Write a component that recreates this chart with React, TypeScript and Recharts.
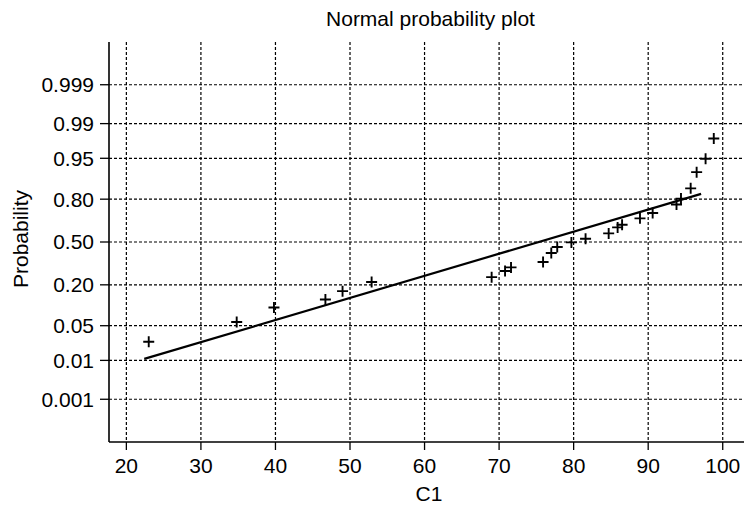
import React from "react";
import {
  ScatterChart,
  Scatter,
  XAxis,
  YAxis,
  CartesianGrid,
} from "recharts";

const c1Values = [
  23.0, 34.8, 39.8, 46.7, 49.0, 52.9, 69.0, 70.8, 71.6, 75.9, 77.0, 77.8, 79.7,
  81.6, 84.7, 85.9, 86.5, 88.9, 90.6, 93.8, 94.4, 95.7, 96.5, 97.7, 98.8,
];
const c1Probs = [
  0.025, 0.058, 0.099, 0.129, 0.167, 0.216, 0.245, 0.284, 0.309, 0.347, 0.414,
  0.461, 0.497, 0.526, 0.567, 0.613, 0.633, 0.679, 0.716, 0.769, 0.803, 0.854,
  0.915, 0.949, 0.979,
];

// fitted normal line end points
const fitValues = [22.4, 97.1];
const fitProbs = [0.0108, 0.828];

const xTicks = [20, 30, 40, 50, 60, 70, 80, 90, 100];
const probTicks = [0.001, 0.01, 0.05, 0.2, 0.5, 0.8, 0.95, 0.99, 0.999];
const probLabels = ["0.001", "0.01", "0.05", "0.20", "0.50", "0.80", "0.95", "0.99", "0.999"];

const FONT = "'Liberation Sans', Arial, Helvetica, sans-serif";

// inverse standard normal cdf (Acklam) for the probability scale
function probit(p: number): number {
  const a = [-39.69683028665376, 220.9460984245205, -275.9285104469687, 138.357751867269, -30.66479806614716, 2.506628277459239];
  const b = [-54.47609879822406, 161.5858368580409, -155.6989798598866, 66.80131188771972, -13.28068155288572];
  const c = [-0.007784894002430293, -0.3223964580411365, -2.400758277161838, -2.549732539343734, 4.374664141464968, 2.938163982698783];
  const d = [0.007784695709041462, 0.3224671290700398, 2.445134137142996, 3.754408661907416];
  const low = 0.02425;
  if (p < low) {
    const q = Math.sqrt(-2 * Math.log(p));
    return (((((c[0] * q + c[1]) * q + c[2]) * q + c[3]) * q + c[4]) * q + c[5]) /
      ((((d[0] * q + d[1]) * q + d[2]) * q + d[3]) * q + 1);
  }
  if (p > 1 - low) {
    const q = Math.sqrt(-2 * Math.log(1 - p));
    return -(((((c[0] * q + c[1]) * q + c[2]) * q + c[3]) * q + c[4]) * q + c[5]) /
      ((((d[0] * q + d[1]) * q + d[2]) * q + d[3]) * q + 1);
  }
  const q = p - 0.5;
  const r = q * q;
  return ((((((a[0] * r + a[1]) * r + a[2]) * r + a[3]) * r + a[4]) * r + a[5]) * q) /
    (((((b[0] * r + b[1]) * r + b[2]) * r + b[3]) * r + b[4]) * r + 1);
}

const points = c1Values.map((x, i) => ({ x, z: probit(c1Probs[i]) }));
const fitLine = fitValues.map((x, i) => ({ x, z: probit(fitProbs[i]) }));
const zTicks = probTicks.map(probit);

const zLabel = (v: number) => {
  let best = 0;
  zTicks.forEach((t, i) => {
    if (Math.abs(t - v) < Math.abs(zTicks[best] - v)) best = i;
  });
  return probLabels[best];
};

const Plus = (props: any) => {
  const { cx, cy } = props;
  if (cx == null || cy == null) return <g />;
  return (
    <path
      d={`M${cx - 5.5},${cy}H${cx + 5.5}M${cx},${cy - 5.5}V${cy + 5.5}`}
      stroke="#000"
      strokeWidth={1.9}
      fill="none"
    />
  );
};

export default function App() {
  const tickStyle = { fontSize: 21, fill: "#000", fontFamily: FONT };
  return (
    <div
      style={{
        position: "absolute",
        left: 0,
        top: 0,
        width: 744,
        height: 505,
        overflow: "hidden",
        background: "#fff",
        fontFamily: FONT,
      }}
    >
      <ScatterChart
        width={760}
        height={505}
        margin={{ top: 42, right: 0, bottom: 0, left: 0 }}
      >
        <CartesianGrid
          stroke="#000"
          strokeWidth={1.2}
          strokeDasharray="3 2"
          horizontalValues={zTicks}
          verticalValues={xTicks}
        />
        <XAxis
          type="number"
          dataKey="x"
          domain={[17.67, 105]}
          allowDataOverflow
          ticks={xTicks}
          interval={0}
          height={63}
          tickSize={8}
          tickMargin={8}
          tick={tickStyle}
          axisLine={{ stroke: "#000", strokeWidth: 1.6 }}
          tickLine={{ stroke: "#000", strokeWidth: 1.3 }}
        />
        <XAxis
          xAxisId="top"
          orientation="top"
          type="number"
          dataKey="x"
          domain={[17.67, 105]}
          allowDataOverflow
          height={0}
          tick={false}
          tickLine={false}
          axisLine={{ stroke: "#000", strokeWidth: 1.6 }}
        />
        <YAxis
          type="number"
          dataKey="z"
          domain={[-3.93, 3.93]}
          allowDataOverflow
          ticks={zTicks}
          interval={0}
          width={109}
          tickSize={9}
          tickMargin={6}
          tick={tickStyle}
          tickFormatter={zLabel}
          axisLine={{ stroke: "#000", strokeWidth: 1.6 }}
          tickLine={{ stroke: "#000", strokeWidth: 1.3 }}
        />
        <Scatter
          data={fitLine}
          line={{ stroke: "#000", strokeWidth: 2.2 }}
          shape={() => <g />}
          isAnimationActive={false}
        />
        <Scatter data={points} shape={Plus} isAnimationActive={false} />
      </ScatterChart>
      <svg
        width={744}
        height={505}
        style={{ position: "absolute", left: 0, top: 0, pointerEvents: "none" }}
      >
        <text x={430.5} y={26} textAnchor="middle" fontSize={21} fontFamily={FONT} fill="#000">
          Normal probability plot
        </text>
        <text x={429} y={501} textAnchor="middle" fontSize={21} fontFamily={FONT} fill="#000">
          C1
        </text>
        <text
          x={28}
          y={239}
          transform="rotate(-90 28 239)"
          textAnchor="middle"
          fontSize={21}
          fontFamily={FONT}
          fill="#000"
        >
          Probability
        </text>
      </svg>
    </div>
  );
}
